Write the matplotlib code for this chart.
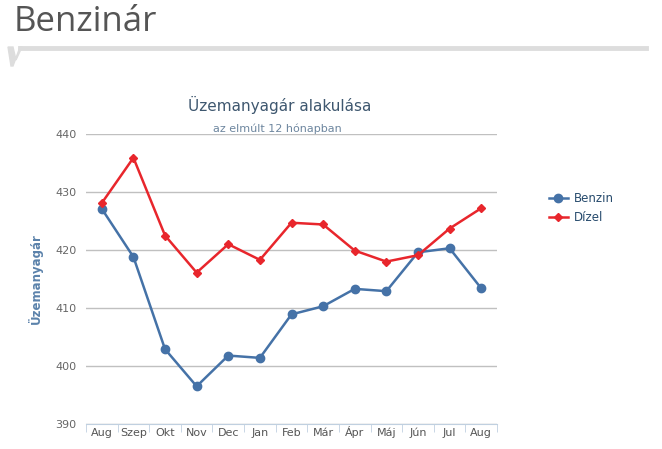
import matplotlib
matplotlib.use("Agg")
import matplotlib.pyplot as plt
from matplotlib.patches import Polygon
from matplotlib.lines import Line2D

months = ["Aug", "Szep", "Okt", "Nov", "Dec", "Jan", "Feb", "Már", "Ápr", "Máj", "Jún", "Jul", "Aug"]
benzin = [427.1, 418.8, 402.9, 396.5, 401.8, 401.4, 408.9, 410.3, 413.3, 412.9, 419.6, 420.3, 413.4]
dizel = [428.1, 435.9, 422.5, 416.1, 421.0, 418.3, 424.7, 424.4, 419.9, 418.0, 419.1, 423.7, 427.2]
yticks = [390, 400, 410, 420, 430, 440]

plt.rcParams['font.family'] = ['DejaVu Sans']
W, H = 662, 449
fig = plt.figure(figsize=(W / 100, H / 100), dpi=100)

# Page header
fig.text(14 / W, 1 - 22 / H, "Benzinár", fontsize=25, color="#555555",
         va="center", ha="left", family=["Open Sans", "DejaVu Sans"])
fig.add_artist(Line2D([20 / W, 646 / W], [1 - 48 / H, 1 - 48 / H], color="#dddddd", lw=3.5))
fig.add_artist(Polygon([(8 / W, 1 - 47 / H), (13 / W, 1 - 47 / H), (16 / W, 1 - 60 / H),
                        (22 / W, 1 - 47 / H), (20 / W, 1 - 47 / H), (13 / W, 1 - 66 / H), (11 / W, 1 - 66 / H)],
                       closed=True, color="#dddddd", transform=fig.transFigure))

# Plot area
x0, x1 = 86, 497
y0, y1 = 134, 424
ax = fig.add_axes([x0 / W, 1 - y1 / H, (x1 - x0) / W, (y1 - y0) / H])
xs = list(range(len(months)))
ax.set_xlim(-0.5, len(months) - 0.5)
ax.set_ylim(390, 440)

ax.plot(xs, benzin, color="#4572A7", lw=1.8, marker="o", ms=6, label="Benzin", zorder=3)
ax.plot(xs, dizel, color="#e8262c", lw=1.8, marker="D", ms=4.2, label="Dízel", zorder=3)

ax.set_yticks(yticks)
ax.set_yticklabels([str(v) for v in yticks])
ax.grid(axis="y", color="#c0c0c0", lw=1)
ax.set_axisbelow(True)
for s in ["top", "right", "left"]:
    ax.spines[s].set_visible(False)
ax.spines["bottom"].set_color("#C0D0E0")
ax.tick_params(axis="y", length=0, labelsize=8, labelcolor="#666666", pad=7)
ax.set_xticks(xs)
ax.set_xticklabels(months)
ax.tick_params(axis="x", length=0, labelsize=8, labelcolor="#555555", pad=9)
for t in ax.get_xticklabels():
    t.set_verticalalignment("baseline")
ax.set_xticks([x - 0.5 for x in range(len(months) + 1)], minor=True)
ax.tick_params(axis="x", which="minor", length=6, color="#C0D0E0", direction="out")

ax.set_ylabel("Üzemanyagár", fontsize=8.5, color="#5b82ab", fontweight="bold", labelpad=9)

fig.text(280 / W, 1 - 105 / H, "Üzemanyagár alakulása", fontsize=11, color="#3E576F",
         ha="center", va="center")
fig.text(277 / W, 1 - 129 / H, "az elmúlt 12 hónapban", fontsize=8, color="#6D869F",
         ha="center", va="center")

leg = fig.legend(handles=ax.get_lines(), loc="center left", bbox_to_anchor=(538 / W, 1 - 208 / H),
                 frameon=False, fontsize=8.5, handlelength=1.6, labelspacing=0.5, handletextpad=0.5)
for t in leg.get_texts():
    t.set_color("#274b6d")

fig.savefig("out.png", dpi=100)
